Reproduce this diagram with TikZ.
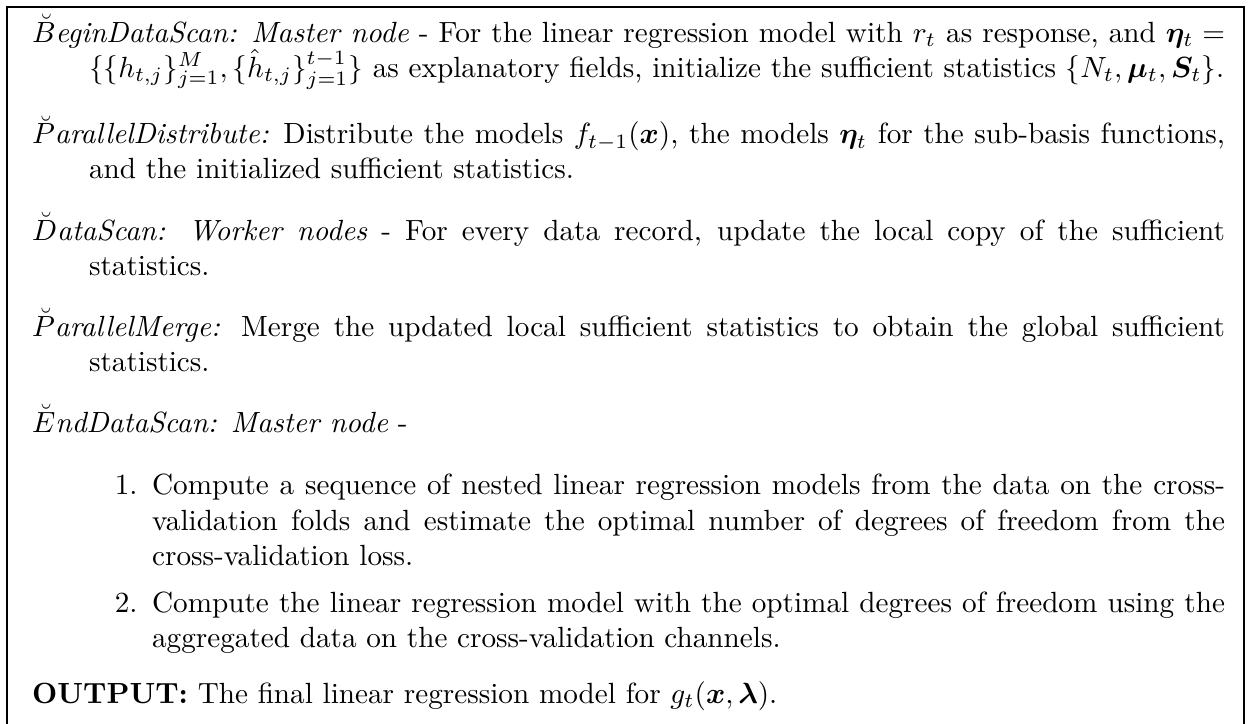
\documentclass[tikz,border=0pt]{standalone}
\usepackage{amsmath,bm}
\tikzset{
  para/.style={anchor=base west, inner sep=0pt, outer sep=0pt},
  enumlabel/.style={anchor=base east, inner sep=0pt, outer sep=0pt},
  framestyle/.style={draw=black, line width=0.4pt}
}
\newcommand{\paratext}[1]{\parbox[t]{408.5pt}{\hangindent=19.5pt\hangafter=1 #1}}
\newcommand{\itemtext}[1]{\parbox[t]{367.4pt}{#1}}
\begin{document}
\begin{tikzpicture}[x=1pt,y=1pt]
\useasboundingbox (0,0) rectangle (430.8,-247.9);
\clip (0,0) rectangle (430.8,-247.9);
% frame (open at the bottom edge of the picture)
\coordinate (fbl) at (2.4,-260);
\coordinate (ftr) at (426.0,-2.4);
\coordinate (fbr) at (426.0,-260);
\draw[framestyle] (fbl) |- (ftr) -- (fbr);
% paragraphs
\node[para] (begin) at (11.0,-14.4) {\paratext{\textit{$\breve{B}$eginDataScan: Master node} - For the linear regression model with $r_t$ as response, and $\bm{\eta}_t = \{\{h_{t,j}\}_{j=1}^{M}, \{\hat{h}_{t,j}\}_{j=1}^{t-1}\}$ as explanatory fields, initialize the sufficient statistics $\{N_t, \bm{\mu}_t, \bm{S}_t\}$.}};
\node[para] (pdist) at (11.0,-49.3) {\paratext{\textit{$\breve{P}$arallelDistribute:} Distribute the models $f_{t-1}(\bm{x})$, the models $\bm{\eta}_t$ for the sub-basis functions, and the initialized sufficient statistics.}};
\node[para] (scan) at (11.0,-82.2) {\paratext{\textit{$\breve{D}$ataScan: Worker nodes} - For every data record, update the local copy of the sufficient statistics.}};
\node[para] (pmerge) at (11.0,-115.1) {\paratext{\textit{$\breve{P}$arallelMerge:} Merge the updated local sufficient statistics to obtain the global sufficient statistics.}};
\node[para] (endscan) at (11.0,-148.0) {\paratext{\textit{$\breve{E}$ndDataScan: Master node} -}};
% enumerated steps
\node[enumlabel] (lab1) at (47.1,-169.5) {1.};
\node[para] (step1) at (52.1,-169.5) {\itemtext{Compute a sequence of nested linear regression models from the data on the cross-validation folds and estimate the optimal number of degrees of freedom from the cross-validation loss.}};
\node[enumlabel] (lab2) at (47.1,-209.9) {2.};
\node[para] (step2) at (52.1,-209.9) {\itemtext{Compute the linear regression model with the optimal degrees of freedom using the aggregated data on the cross-validation channels.}};
% output
\node[para] (output) at (11.0,-240.8) {\paratext{\textbf{OUTPUT:} The final linear regression model for $g_t(\bm{x},\bm{\lambda})$.}};
\end{tikzpicture}
\end{document}
